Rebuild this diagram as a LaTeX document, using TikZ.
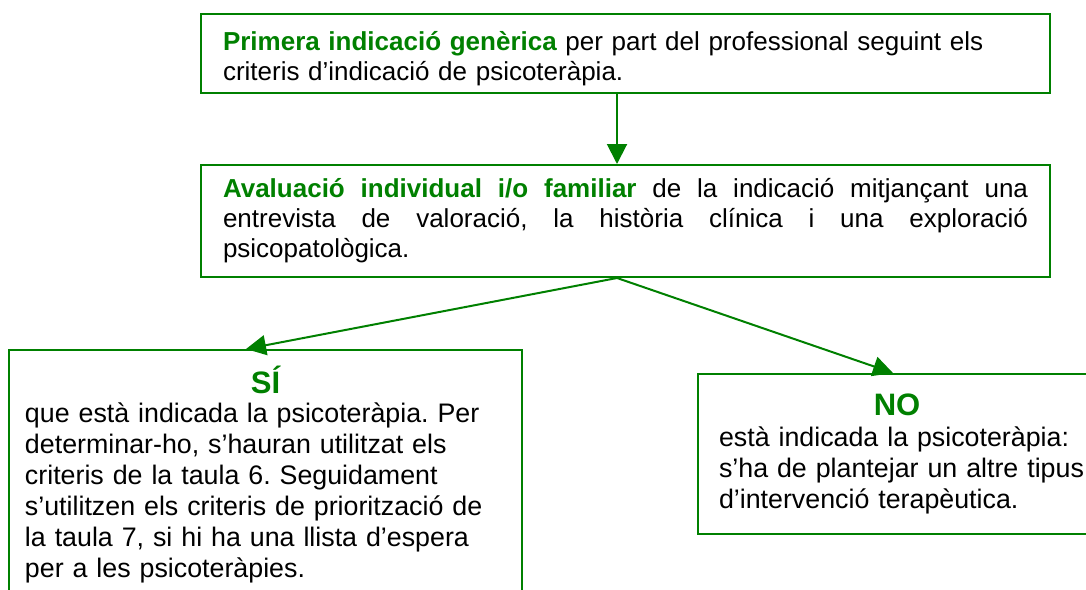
\documentclass[tikz,border=0pt]{standalone}
\usepackage{fontspec}
\setmainfont{Liberation Sans}
\usepackage{xcolor}
\usepackage{tikz}
\usetikzlibrary{arrows.meta}
\definecolor{verd}{RGB}{0,128,0}
\frenchspacing

\begin{document}
\begin{tikzpicture}[x=0.5pt,y=-0.5pt,
    caixa/.style={draw=verd,line width=1pt,anchor=north west,inner ysep=0pt,
      font=\fontsize{13}{15}\selectfont},
    resposta/.style={caixa,align=left,font=\fontsize{13.4}{15.5}\selectfont},
    fletxa/.style={draw=verd,line width=1pt,-{Triangle[length=10pt,width=10pt]}}]
  \useasboundingbox (0,0) rectangle (1086,589);
  \clip (0,0) rectangle (1086,589);
  \node[caixa,text width=402.5pt,inner xsep=11pt,minimum height=39.5pt,align=left] (prim) at (200,13)
    {\rule{0pt}{15pt}\textcolor{verd}{\bfseries Primera indicació genèrica} per part del professional seguint els\\
     criteris d’indicació de psicoteràpia.};
  \node[caixa,text width=402.5pt,inner xsep=11pt,minimum height=56pt,align=justify] (aval) at (200,164)
    {\textcolor{verd}{\bfseries Avaluació individual i/o familiar} de la indicació mitjançant  una\linebreak
     entrevista de valoració, la història clínica i una exploració\linebreak
     psicopatològica.};
  \node[resposta,text width=240.5pt,inner xsep=8pt,inner ysep=8pt] (si) at (8,349)
    {\makebox[\linewidth]{\fontsize{15.5}{15.5}\selectfont\bfseries\color{verd}SÍ}\\[-1pt]
     que està indicada la psicoteràpia. Per\\
     determinar-ho, s’hauran utilitzat els\\
     criteris de la taula 6. Seguidament\\
     s’utilitzen els criteris de priorització de\\
     la taula 7, si hi ha una llista d’espera\\
     per a les psicoteràpies.};
  \node[resposta,text width=190pt,inner xsep=10.5pt,minimum height=80pt] (no) at (697,373)
    {\makebox[178pt]{\fontsize{15.5}{15.5}\selectfont\bfseries\color{verd}NO}\\
     està indicada la psicoteràpia:\\
     s’ha de plantejar un altre tipus\\
     d’intervenció terapèutica.};
  \coordinate (eix) at (617,0);
  \draw[fletxa] (prim.south -| eix) -- (aval.north -| eix);
  \draw[fletxa] (aval.south -| eix) -- ([xshift=-9.75pt]si.north);
  \draw[fletxa] (aval.south -| eix) -- ([xshift=-8pt]no.north);
\end{tikzpicture}
\end{document}
